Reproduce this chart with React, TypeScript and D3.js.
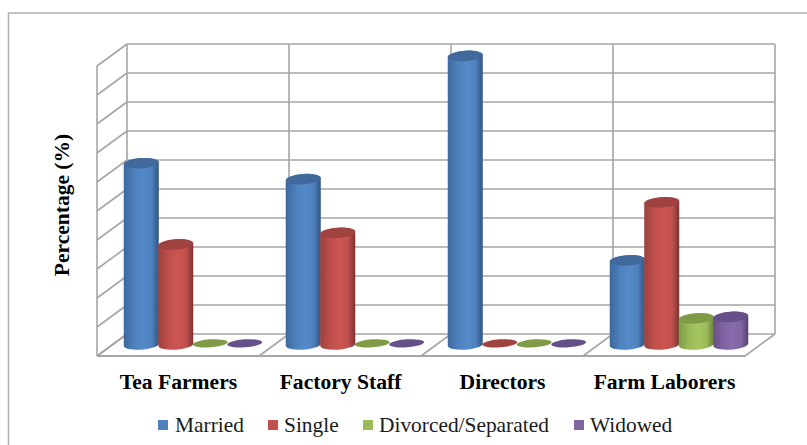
import React from "react";
import * as d3 from "d3";

const categories = ["Tea Farmers", "Factory Staff", "Directors", "Farm Laborers"];
const seriesNames = ["Married", "Single", "Divorced/Separated", "Widowed"];
const married = [62.5, 57, 99.5, 29];
const single = [34.5, 38.5, 0.4, 49];
const divorced = [0.4, 0.4, 0.4, 9];
const widowed = [0.4, 0.4, 0.4, 9.5];
const seriesValues = [married, single, divorced, widowed];
const gridTicks = d3.range(0, 101, 10);

const sideColors = ["#4f81bd", "#c0504d", "#9bbb59", "#8064a2"];
const edgeColors = ["#2f5482", "#7d3230", "#67803a", "#54406e"];
const capColors = ["#41699b", "#a04340", "#7f9b47", "#67508a"];
const legendSwatchX = [158, 268, 363, 574];
const legendTextX = [175, 284, 379, 590];

const font = "'Liberation Serif', 'Times New Roman', serif";
const gridColor = "#a6a6a6";

// 3D box: the back wall is the front plane shifted by this offset.
const depthX = 30;
const depthY = -22;
const frontLeft = 97;
const frontRight = 745;
const floorFrontY = 356;

const wallY = d3.scaleLinear().domain([0, 100]).range([334, 44]);
const barY = d3.scaleLinear().domain([0, 100]).range([344.5, 54.5]);
const categoryX = d3.scaleBand().domain(categories).range([frontLeft, frontRight]);
const seriesX = d3
  .scaleBand()
  .domain(seriesNames)
  .range([-69, 69]);

const rx = 17.5;
const ry = 5.2;
const tilt = 1.3;
const rot = -4;

function cylinderPath(cx: number, top: number, base: number) {
  const p = d3.path();
  p.moveTo(cx - rx, top + tilt);
  p.lineTo(cx - rx, base + tilt);
  const bottom = `A${rx} ${ry} ${rot} 0 0 ${cx + rx} ${base - tilt}`;
  const up = `L${cx + rx} ${top - tilt}`;
  const cap = `A${rx} ${ry} ${rot} 0 0 ${cx - rx} ${top + tilt}Z`;
  return p.toString() + bottom + up + cap;
}

export default function App() {
  const band = categoryX.bandwidth();
  const dividers = d3.range(0, categories.length + 1).map((i) => frontLeft + i * band);

  return (
    <svg
      width={807}
      height={445}
      style={{ position: "absolute", left: 0, top: 0, background: "#fff" }}
    >
      <defs>
        {sideColors.map((c, i) => (
          <linearGradient key={c} id={`side${i}`} x1="0" x2="1" y1="0" y2="0">
            <stop offset="0" stopColor={d3.interpolateRgb(edgeColors[i], c)(0.45)} />
            <stop offset="0.3" stopColor={c} />
            <stop offset="0.55" stopColor={d3.color(c)!.brighter(0.18).formatHex()} />
            <stop offset="0.8" stopColor={c} />
            <stop offset="1" stopColor={edgeColors[i]} />
          </linearGradient>
        ))}
      </defs>

      <path d="M8.5 445V13H807" fill="none" stroke="#b0b0b0" strokeWidth={1.5} />

      <g fill="none" stroke={gridColor} strokeWidth={1.6}>
        {gridTicks.map((t) => (
          <g key={t}>
            <line x1={frontLeft + depthX} x2={frontRight + depthX} y1={wallY(t)} y2={wallY(t)} />
            <line x1={frontLeft} x2={frontLeft + depthX} y1={wallY(t) - depthY} y2={wallY(t)} />
          </g>
        ))}
        <line x1={frontLeft} x2={frontLeft} y1={wallY(100) - depthY} y2={floorFrontY} />
        {dividers.map((x) => (
          <g key={x}>
            <line x1={x + depthX} x2={x + depthX} y1={wallY(100)} y2={wallY(0)} />
            <line x1={x} x2={x + depthX} y1={floorFrontY} y2={wallY(0)} />
          </g>
        ))}
        <line x1={frontLeft} x2={frontRight} y1={floorFrontY} y2={floorFrontY} strokeWidth={1.8} />
      </g>

      {categories.map((cat, ci) => {
        const center = categoryX(cat)! + band / 2 + depthX / 2;
        return (
          <g key={cat}>
            {seriesNames.map((name, si) => {
              const cx = center + seriesX(name)! + seriesX.bandwidth() / 2;
              const value = seriesValues[si][ci];
              const top = barY(value);
              const base = barY(0);
              if (value < 1) {
                return (
                  <ellipse
                    key={name}
                    cx={cx}
                    cy={top}
                    rx={rx}
                    ry={4}
                    fill={capColors[si]}
                    transform={`rotate(${rot} ${cx} ${top})`}
                  />
                );
              }
              return (
                <g key={name}>
                  <path d={cylinderPath(cx, top, base)} fill={`url(#side${si})`} />
                  <ellipse
                    cx={cx}
                    cy={top}
                    rx={rx}
                    ry={ry}
                    fill={capColors[si]}
                    transform={`rotate(${rot} ${cx} ${top})`}
                  />
                </g>
              );
            })}
          </g>
        );
      })}

      <g fontFamily={font} fontWeight="bold" fontSize={21.6} fill="#000" textAnchor="middle">
        {categories.map((cat) => (
          <text key={cat} x={categoryX(cat)! + band / 2 + 0.5} y={389}>
            {cat}
          </text>
        ))}
        <text transform="translate(69 205) rotate(-90)" fontSize={21.5}>
          Percentage (%)
        </text>
      </g>

      <g fontFamily={font} fontSize={21.4} fill="#1a1a1a">
        {seriesNames.map((name, i) => (
          <g key={name}>
            <rect x={legendSwatchX[i]} y={420} width={10} height={10} fill={sideColors[i]} />
            <text x={legendTextX[i]} y={432}>
              {name}
            </text>
          </g>
        ))}
      </g>
    </svg>
  );
}
